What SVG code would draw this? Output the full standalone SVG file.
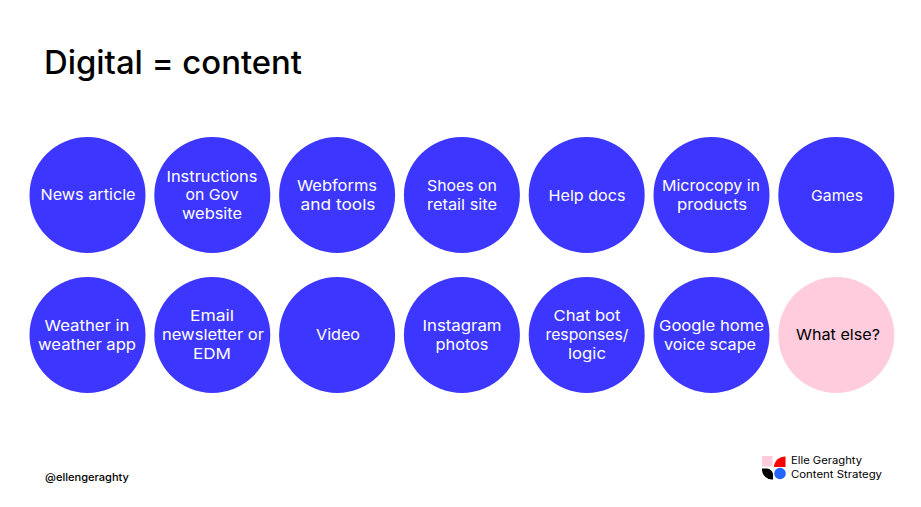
<svg xmlns="http://www.w3.org/2000/svg" width="921" height="507" viewBox="0 0 921 507">
<style>
text{font-family:"Inter","DejaVu Sans",sans-serif}
.c{fill:#3d36ff}
.l{fill:#fff;font-size:15px;text-anchor:middle;font-weight:400}
.d{fill:#000}
</style>
<rect width="921" height="507" fill="#fff"/>
<text x="44" y="74" font-size="32" font-weight="500" fill="#000" textLength="258" lengthAdjust="spacingAndGlyphs">Digital = content</text>
<g id="n1"><circle class="c" cx="87.500" cy="195" r="58"/><text class="l" x="88" y="199.500" textLength="95" lengthAdjust="spacingAndGlyphs">News article</text></g>
<g id="n2"><circle class="c" cx="212.300" cy="195" r="58"/><text class="l" x="212" y="182" textLength="91" lengthAdjust="spacingAndGlyphs">Instructions</text><text class="l" x="212" y="200" textLength="53" lengthAdjust="spacingAndGlyphs">on Gov</text><text class="l" x="212" y="219" textLength="60" lengthAdjust="spacingAndGlyphs">website</text></g>
<g id="n3"><circle class="c" cx="337.100" cy="195" r="58"/><text class="l" x="337" y="191" textLength="80" lengthAdjust="spacingAndGlyphs">Webforms</text><text class="l" x="338" y="210" textLength="75" lengthAdjust="spacingAndGlyphs">and tools</text></g>
<g id="n4"><circle class="c" cx="461.900" cy="195" r="58"/><text class="l" x="462" y="191" textLength="70" lengthAdjust="spacingAndGlyphs">Shoes on</text><text class="l" x="462" y="210" textLength="70" lengthAdjust="spacingAndGlyphs">retail site</text></g>
<g id="n5"><circle class="c" cx="586.700" cy="195" r="58"/><text class="l" x="587" y="201" textLength="77" lengthAdjust="spacingAndGlyphs">Help docs</text></g>
<g id="n6"><circle class="c" cx="711.500" cy="195" r="58"/><text class="l" x="711" y="191" textLength="98" lengthAdjust="spacingAndGlyphs">Microcopy in</text><text class="l" x="712" y="210" textLength="70" lengthAdjust="spacingAndGlyphs">products</text></g>
<g id="n7"><circle class="c" cx="836.300" cy="195" r="58"/><text class="l" x="837" y="201" textLength="52" lengthAdjust="spacingAndGlyphs">Games</text></g>
<g id="n8"><circle class="c" cx="87.500" cy="335" r="58"/><text class="l" x="87" y="331" textLength="85" lengthAdjust="spacingAndGlyphs">Weather in</text><text class="l" x="87" y="350" textLength="98" lengthAdjust="spacingAndGlyphs">weather app</text></g>
<g id="n9"><circle class="c" cx="212.300" cy="335" r="58"/><text class="l" x="212" y="321" textLength="44" lengthAdjust="spacingAndGlyphs">Email</text><text class="l" x="213" y="340" textLength="102" lengthAdjust="spacingAndGlyphs">newsletter or</text><text class="l" x="212" y="359" textLength="38" lengthAdjust="spacingAndGlyphs">EDM</text></g>
<g id="n10"><circle class="c" cx="337.100" cy="335" r="58"/><text class="l" x="338" y="340" textLength="44" lengthAdjust="spacingAndGlyphs">Video</text></g>
<g id="n11"><circle class="c" cx="461.900" cy="335" r="58"/><text class="l" x="462" y="331" textLength="79" lengthAdjust="spacingAndGlyphs">Instagram</text><text class="l" x="462" y="350" textLength="53" lengthAdjust="spacingAndGlyphs">photos</text></g>
<g id="n12"><circle class="c" cx="586.700" cy="335" r="58"/><text class="l" x="587" y="321" textLength="67" lengthAdjust="spacingAndGlyphs">Chat bot</text><text class="l" x="587" y="340" textLength="83" lengthAdjust="spacingAndGlyphs">responses/</text><text class="l" x="587" y="359" textLength="38" lengthAdjust="spacingAndGlyphs">logic</text></g>
<g id="n13"><circle class="c" cx="711.500" cy="335" r="58"/><text class="l" x="711.500" y="331" textLength="105" lengthAdjust="spacingAndGlyphs">Google home</text><text class="l" x="710" y="350" textLength="92" lengthAdjust="spacingAndGlyphs">voice scape</text></g>
<g id="n14"><circle cx="836.300" cy="335" r="58" fill="#ffccdd"/><text class="l" x="838" y="340" style="fill:#000" textLength="84" lengthAdjust="spacingAndGlyphs">What else?</text></g>
<text x="45" y="481" font-size="10.500" font-weight="500" fill="#000" textLength="84" lengthAdjust="spacingAndGlyphs">@ellengeraghty</text>
<g id="logo">
<rect x="762" y="456" width="10.500" height="10.500" fill="#ffccdd"/>
<path d="M774 467A11 11 0 0 1 785.500 456.500V467Z" fill="#f00"/>
<path d="M762 468.500H767A7 7 0 0 1 773 474V479.500H772A10 10 0 0 1 762 470Z" fill="#000"/>
<circle cx="780" cy="473.500" r="5.800" fill="#2266ff"/>
</g>
<text x="791" y="464" font-size="10" font-weight="400" fill="#000" textLength="71" lengthAdjust="spacingAndGlyphs">Elle Geraghty</text>
<text x="791" y="478" font-size="10" font-weight="400" fill="#000" textLength="91" lengthAdjust="spacingAndGlyphs">Content Strategy</text>
</svg>
